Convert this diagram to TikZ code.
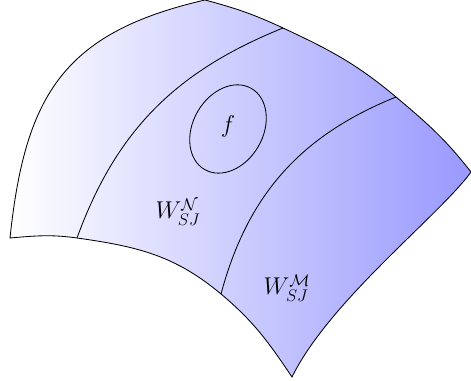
\documentclass[tikz,border=0pt]{standalone}
\usepackage{amsmath,amssymb}
\usetikzlibrary{calc}

\begin{document}
\begin{tikzpicture}[x=0.25mm, y=0.25mm, line width=0.6pt]

  \useasboundingbox (0,0) rectangle (471,381);

  % Corners of the patch
  \coordinate (A) at (10,143);
  \coordinate (T) at (205,381);
  \coordinate (R) at (471,209);
  \coordinate (B) at (292,4);

  % Split points on the top and bottom edges
  \coordinate (P1) at (77,143);
  \coordinate (P2) at (221,87);
  \coordinate (Q1) at (283,353);
  \coordinate (Q2) at (396,284);

  % Surface patch
  \draw[left color=white, right color=blue!40]
    (A) to[out=84, in=193, looseness=1.2] (T)
        to[out=-15, in=155] (Q1)
        to[out=-25, in=140] (Q2)
        to[out=-40, in=128] (R)
        .. controls (440,166) and (330,81) .. (B)
        to[out=124, in=-40] (P2)
        to[out=140, in=-8] (P1)
        to[out=172, in=5] cycle;

  % Dividing curves
  \draw (P1) to[out=70, in=202] (Q1);
  \draw (P2) to[out=75, in=202] (Q2);

  % Region f
  \node[font=\LARGE] (f) at (228,255) {$f$};
  \draw[rotate around={-30:(228,252)}] (228,252) ellipse[x radius=8.75mm, y radius=11.7mm];

  % Labels
  \node[font=\LARGE] (wn) at (178,169) {$W_{SJ}^{\mathcal{N}}$};
  \node[font=\LARGE] (wm) at (287,93) {$W_{SJ}^{\mathcal{M}}$};

\end{tikzpicture}
\end{document}
